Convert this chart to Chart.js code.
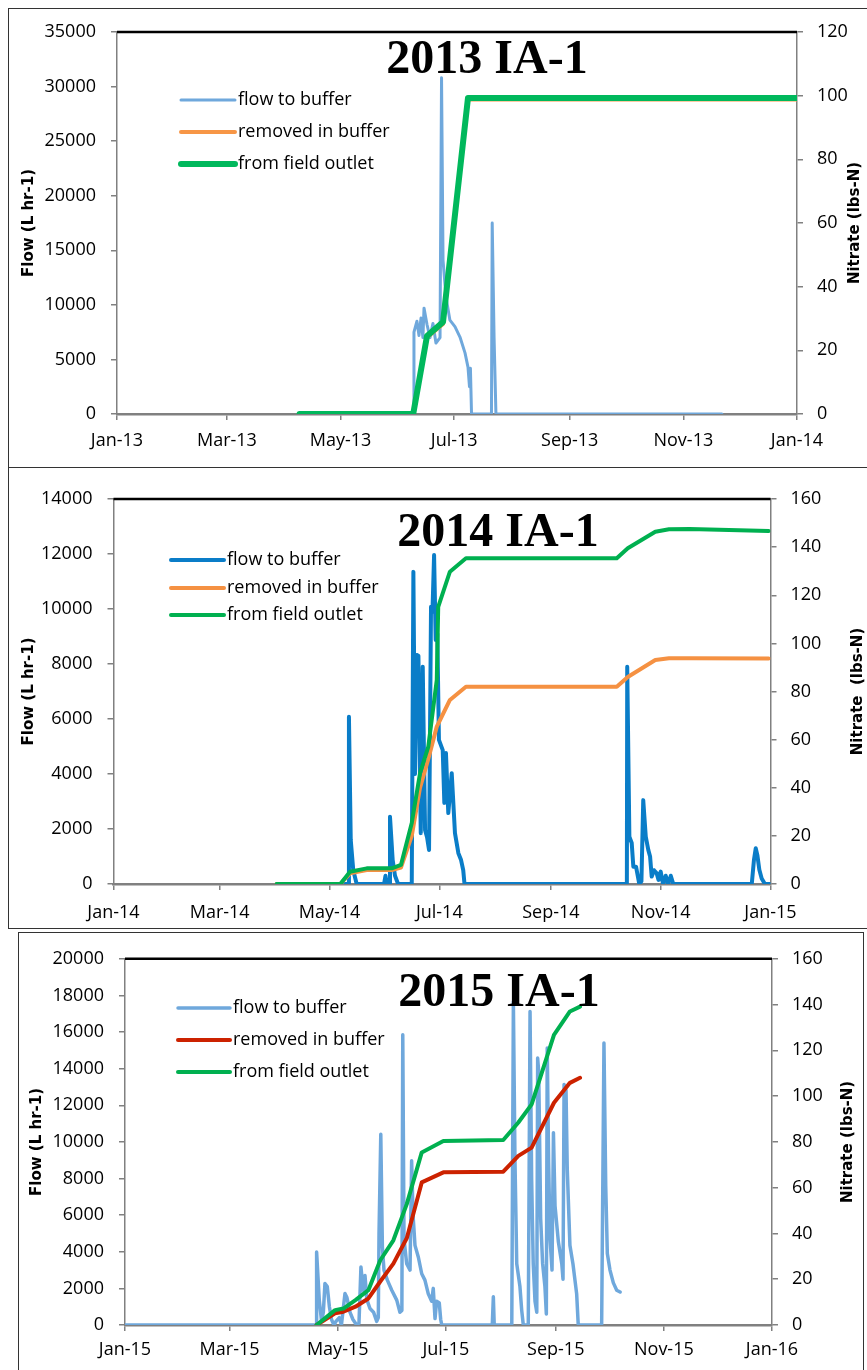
<!DOCTYPE html>
<html>
<head>
<meta charset="utf-8">
<script src="https://cdn.jsdelivr.net/npm/chart.js@4.4.1/dist/chart.umd.min.js"></script>
<style>
  body { margin: 0; background: #fff; width: 867px; height: 1370px; position: relative; overflow: hidden; }
  .box { position: absolute; border: 1.5px solid #333; box-sizing: border-box; }
  canvas { position: absolute; left: 0; }
</style>
</head>
<body>
<div class="box" style="left:8px;top:8px;width:880px;height:460px"></div>
<div class="box" style="left:8px;top:467px;width:880px;height:462px"></div>
<div class="box" style="left:18px;top:932px;width:846px;height:460px"></div>
<canvas id="c2013" width="867" height="467" style="top:0"></canvas>
<canvas id="c2014" width="867" height="461" style="top:467px"></canvas>
<canvas id="c2015" width="867" height="437" style="top:933px"></canvas>
<script>
// month starts as day-of-year, shared by every panel
const monthDays = [0, 59, 120, 181, 243, 304, 365];
const months13 = ["Jan-13", "Mar-13", "May-13", "Jul-13", "Sep-13", "Nov-13", "Jan-14"];
const months14 = ["Jan-14", "Mar-14", "May-14", "Jul-14", "Sep-14", "Nov-14", "Jan-15"];
const months15 = ["Jan-15", "Mar-15", "May-15", "Jul-15", "Sep-15", "Nov-15", "Jan-16"];

// 2013 - flow to buffer (L/hr)
const flowDays13 = [159.1, 159.4, 161, 162.1, 163.2, 164.2, 164.8, 166.4, 168, 169.6, 171.2, 173.4,
  174.2, 175, 176.6, 178.7, 181.4, 184.1, 186.8, 188.4, 189.2, 189.7, 190.3, 201, 201.4, 202.4, 203.4, 324.7];
const flowVals13 = [0, 7500, 8500, 7200, 8800, 7000, 9700, 8200, 7000, 8300, 6500, 7000,
  30800, 14100, 10700, 8600, 8000, 7050, 5600, 4300, 2500, 4200, 0, 0, 17500, 7000, 0, 0];
// 2013 - nitrate (lbs-N)
const nDays13 = [98, 159, 166.4, 175, 188.4, 365];
const removed13 = [0, 0, 24, 28.3, 98.8, 98.8];
const outlet13 = [0, 0, 24.5, 28.9, 99.3, 99.3];

// 2014 - flow to buffer (L/hr)
const flowDays14 = [120.3, 130.6, 130.8, 131.8, 133.2, 135.1, 150.3, 151.1, 151.9, 153.3, 153.6, 155.1, 156.4, 158.1,
  165.7, 166.6, 167.5, 168.4, 169.4, 170.7, 171.8, 173.1, 174.2, 175.3, 176.4, 177.2, 178.1, 179, 179.9, 180.8,
  182.9, 183.8, 184.7, 186, 187.9, 189.7, 191.6, 193.1, 194.3, 195,
  285.2, 285.4, 286.6, 287.9, 288.8, 290.3, 292.1, 293.3, 294.3, 295.7, 297.1, 298.1, 299, 300.3, 301.7, 302.8,
  304, 305.3, 306.8, 308.1, 309.6, 311, 354.6, 355.8, 356.8, 357.7, 358.8, 360.1, 361.9, 364.7];
const flowVals14 = [0, 0, 6080, 1600, 500, 0, 0, 300, 0, 0, 2450, 870, 300, 0,
  0, 11350, 4000, 8330, 8300, 1850, 7900, 1960, 1700, 1240, 10080, 9900, 11960, 8870, 9100, 5240,
  4870, 2950, 4760, 2580, 4030, 1850, 1120, 870, 500, 0,
  0, 7900, 1720, 1490, 630, 630, 0, 100, 3050, 1720, 1240, 1000, 270, 500, 400, 150,
  450, 0, 300, 0, 300, 0, 0, 870, 1300, 1050, 520, 200, 0, 0];
// 2014 - nitrate (lbs-N)
const nDays14 = [90.6, 126, 131.4, 140.7, 154.6, 159.7, 165.7, 170.3, 174.9, 179.6, 180.4, 186.9, 195.8,
  279.6, 285.7, 301, 308.6, 320, 364];
const removed14 = [0, 0, 4.4, 5.8, 5.8, 6.8, 20, 40, 52, 65.4, 66.6, 76.5, 82, 82, 86, 93.1, 93.8, 93.8, 93.7];
const outlet14 = [0, 0, 5.1, 6.5, 6.5, 7.9, 25.4, 46.1, 57.1, 84.8, 115.2, 129.8, 135.4, 135.4, 139.5, 146.4, 147.4, 147.5, 146.7];

// 2015 - flow to buffer (L/hr)
const flowDays15 = [0, 107.8, 108.1, 109.6, 110.9, 111.9, 112.8, 114.1, 115.3, 116.5, 117.9, 119, 120.9, 122.1,
  124.1, 125.2, 126.9, 128.6, 130.7, 132, 133.1, 134.4, 135.4, 136.4, 138.2, 140.2, 142, 142.9, 143.3, 144.3,
  145.2, 146.1, 148, 150.5, 153.3, 155.1, 156.2, 156.7, 157.4, 158.9, 160.8, 161.7, 162.5, 163.6, 165.5, 167.4,
  169.2, 171.1, 173, 173.9, 174.9, 175.8, 177.3, 178.1, 178.7, 207.2, 207.8, 208.3, 218.2, 219.1, 220, 221,
  222.8, 223.8, 224.7, 227.5, 228.5, 229.4, 230.3, 231.3, 232.3, 232.8, 233.4, 234.5, 235.6, 236.9, 237.7, 238.2,
  239, 239.8, 240.9, 241.7, 242.6, 244.5, 246.4, 247.1, 247.7, 248.8, 249.5, 251, 252.7, 254.8, 255.7,
  268.9, 270.2, 271.2, 272.1, 273.6, 275.5, 277.4, 279.3];
const flowVals15 = [0, 0, 3985, 1360, 200, 700, 2270, 2100, 1000, 300, 0, 200, 400, 0,
  1720, 1500, 700, 300, 0, 100, 3170, 1900, 2700, 1400, 900, 700, 200, 400, 4980, 10420,
  4260, 3000, 2450, 1900, 1360, 700, 800, 15850, 4700, 3350, 3000, 8970, 6000, 4350, 3700, 2800,
  2450, 1700, 1300, 2000, 350, 1300, 1200, 300, 0, 0, 1540, 0, 0, 17660, 9000, 3350,
  2100, 800, 0, 0, 17120, 8000, 3350, 1300, 700, 14580, 13800, 5800, 3350, 2100, 600, 15130,
  8800, 4700, 3000, 10500, 6500, 4530, 3350, 2500, 13140, 12800, 8500, 4350, 3350, 1700, 0,
  0, 15400, 7600, 3900, 3000, 2300, 1900, 1800];
// 2015 - nitrate (lbs-N)
const nDays15 = [108.1, 118.5, 123.2, 130, 137.3, 144, 151.4, 159, 167.4, 179.6, 213.4, 221.9, 229.4, 242, 251, 256.7];
const removed15 = [0, 5.1, 5.8, 8, 11.6, 19, 26.8, 38, 62.3, 66.7, 67, 73.9, 77.5, 97.1, 105.8, 108];
const outlet15 = [0, 6.5, 7.2, 10.9, 15.2, 28.3, 37, 52.9, 75.4, 80.4, 80.8, 88.5, 96.4, 126.8, 137, 139.1];

const legendLabels = ["flow to buffer", "removed in buffer", "from field outlet"];

function pts(days, vals) {
  return days.map((d, i) => ({ x: d, y: vals[i] }));
}

const tickFont = { family: "Open Sans", size: 18 };
const axisGray = "#808080";

// draws the plot frame top, panel heading, inline legend and right-hand axis title
const decor = {
  id: "decor",
  afterDraw(chart) {
    const p = chart.options.plugins.decor;
    const { ctx, chartArea: a } = chart;
    ctx.save();
    ctx.strokeStyle = "#000";
    ctx.lineWidth = 2.5;
    ctx.beginPath();
    ctx.moveTo(a.left, a.top);
    ctx.lineTo(a.right, a.top);
    ctx.stroke();

    ctx.fillStyle = "#000";
    ctx.font = "bold 48px 'Liberation Serif'";
    ctx.textAlign = "center";
    ctx.textBaseline = "alphabetic";
    ctx.fillText(p.heading, p.headX, p.headY);

    ctx.font = "18px 'Open Sans'";
    ctx.textAlign = "left";
    ctx.textBaseline = "middle";
    chart.data.datasets.forEach((ds, i) => {
      const y = p.legY[i];
      ctx.strokeStyle = ds.borderColor;
      ctx.lineWidth = ds.borderWidth;
      ctx.lineCap = "round";
      ctx.beginPath();
      ctx.moveTo(p.legX0, y);
      ctx.lineTo(p.legX1, y);
      ctx.stroke();
      ctx.fillText(ds.label, p.legX1 + 3, y);
    });

    ctx.translate(p.rightTitleX, (a.top + a.bottom) / 2);
    ctx.rotate(-Math.PI / 2);
    ctx.textAlign = "center";
    ctx.font = "bold 15px 'DejaVu Sans'";
    ctx.fillText(p.rightTitle, 0, 0);
    ctx.restore();
  }
};

function makeChart(id, s) {
  const canvas = document.getElementById(id);
  return new Chart(canvas, {
    type: "line",
    data: {
      datasets: [
        { label: legendLabels[0], data: s.flow, borderColor: s.colors[0], borderWidth: s.widths[0], order: 3 },
        { label: legendLabels[1], data: s.removed, borderColor: s.colors[1], borderWidth: s.widths[1], order: 2, yAxisID: "y2" },
        { label: legendLabels[2], data: s.outlet, borderColor: s.colors[2], borderWidth: s.widths[2], order: 1, yAxisID: "y2" }
      ]
    },
    options: {
      responsive: false,
      animation: false,
      parsing: true,
      elements: {
        point: { radius: 0 },
        line: { tension: 0, borderJoinStyle: "round", borderCapStyle: "round", fill: false }
      },
      layout: { padding: { top: s.top, left: 0, right: 0, bottom: 0 } },
      plugins: {
        legend: { display: false },
        tooltip: { enabled: false },
        decor: s.decor
      },
      scales: {
        x: {
          type: "linear",
          min: 0,
          max: 365,
          afterBuildTicks: (sc) => { sc.ticks = monthDays.map((v) => ({ value: v })); },
          afterFit: (sc) => { sc.height = s.xHeight; },
          ticks: {
            autoSkip: false,
            maxRotation: 0,
            padding: s.xPad,
            color: "#000",
            font: tickFont,
            callback: (v) => s.months[monthDays.indexOf(v)]
          },
          grid: { display: true, drawOnChartArea: false, drawTicks: true, tickLength: 6, color: axisGray, lineWidth: 1.5 },
          border: { color: axisGray, width: 2.5 }
        },
        y: {
          position: "left",
          min: 0,
          max: s.flowMax,
          afterFit: (sc) => { sc.width = s.left; },
          ticks: { stepSize: s.flowStep, padding: 15, color: "#000", font: tickFont, callback: (v) => String(v) },
          grid: { display: true, drawOnChartArea: false, drawTicks: true, tickLength: 6, color: axisGray, lineWidth: 1.5 },
          border: { color: axisGray, width: 1.5 },
          title: {
            display: true,
            text: "Flow (L hr-1)",
            color: "#000",
            font: { family: "DejaVu Sans", weight: "bold", size: 15 },
            padding: { top: s.leftTitlePad, bottom: 0 }
          }
        },
        y2: {
          position: "right",
          min: 0,
          max: s.nMax,
          afterFit: (sc) => { sc.width = 867 - s.right; },
          ticks: { stepSize: 20, padding: 14, color: "#000", font: tickFont },
          grid: { display: true, drawOnChartArea: false, drawTicks: true, tickLength: 6, color: axisGray, lineWidth: 1.5 },
          border: { color: axisGray, width: 1.5 }
        }
      }
    },
    plugins: [decor]
  });
}

function drawAll() {
  makeChart("c2013", {
    flow: pts(flowDays13, flowVals13),
    removed: pts(nDays13, removed13),
    outlet: pts(nDays13, outlet13),
    colors: ["#6FA8DC", "#F79646", "#00B85C"],
    widths: [3, 4, 6],
    months: months13,
    flowMax: 35000, flowStep: 5000, nMax: 120,
    top: 32, left: 117, right: 797, xHeight: 53, xPad: 10, leftTitlePad: 20,
    decor: { heading: "2013 IA-1", headX: 487, headY: 73, legX0: 181, legX1: 235,
      legY: [100, 132, 164], rightTitle: "Nitrate (lbs-N)", rightTitleX: 855 }
  });
  makeChart("c2014", {
    flow: pts(flowDays14, flowVals14),
    removed: pts(nDays14, removed14),
    outlet: pts(nDays14, outlet14),
    colors: ["#0A7DC8", "#F59142", "#00B050"],
    widths: [4, 4, 4],
    months: months14,
    flowMax: 14000, flowStep: 2000, nMax: 160,
    top: 32, left: 113.5, right: 770.5, xHeight: 44, xPad: 12, leftTitlePad: 20,
    decor: { heading: "2014 IA-1", headX: 498, headY: 79, legX0: 171, legX1: 224,
      legY: [93, 121, 148], rightTitle: "Nitrate  (lbs-N)", rightTitleX: 858 }
  });
  makeChart("c2015", {
    flow: pts(flowDays15, flowVals15),
    removed: pts(nDays15, removed15),
    outlet: pts(nDays15, outlet15),
    colors: ["#6FA8DC", "#CC2200", "#00B050"],
    widths: [3.5, 4, 4],
    months: months15,
    flowMax: 20000, flowStep: 2000, nMax: 160,
    top: 24, left: 125, right: 772, xHeight: 45, xPad: 8, leftTitlePad: 28,
    decor: { heading: "2015 IA-1", headX: 499, headY: 73, legX0: 178, legX1: 230,
      legY: [75, 107, 139], rightTitle: "Nitrate (lbs-N)", rightTitleX: 848 }
  });
}

Promise.all([
  document.fonts.load("18px 'Open Sans'"),
  document.fonts.load("bold 48px 'Liberation Serif'"),
  document.fonts.load("bold 15px 'DejaVu Sans'")
]).then(drawAll, drawAll);
</script>
</body>
</html>
